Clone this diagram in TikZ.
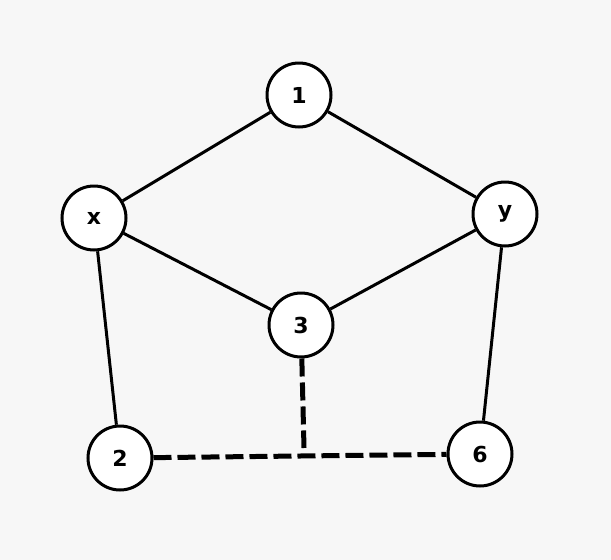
\documentclass[tikz,border=0pt]{standalone}
\usepackage{fontspec}
\setmainfont{DejaVu Sans}
\definecolor{bg}{HTML}{F7F7F7}
\begin{document}
\begin{tikzpicture}[x=1pt,y=-1pt,
  vert/.style={circle,draw=black,line width=3pt,fill=white,minimum size=64pt,inner sep=0pt,font=\fontsize{22}{22}\selectfont\bfseries},
  edge/.style={line width=3pt},
  dedge/.style={line width=5pt,dash pattern=on 18pt off 6pt}]
\fill[bg] (0,0) rectangle (611,560);
\useasboundingbox (0,0) rectangle (611,560);
\node[vert] (n1) at (299,95) {1};
\node[vert] (nx) at (94,218) {x};
\node[vert] (ny) at (505,214) {y};
\node[vert] (n3) at (301,325) {3};
\node[vert] (n2) at (120,458) {2};
\node[vert] (n6) at (480,454) {6};
\coordinate (j) at (304,448);
\draw[edge] (n1) -- (nx);
\draw[edge] (n1) -- (ny);
\draw[edge] (nx) -- (n3);
\draw[edge] (ny) -- (n3);
\draw[edge] (nx) -- (n2);
\draw[edge] (ny) -- (n6);
\draw[dedge] (n2) -- (n6);
\draw[dedge] (n3) -- (j);
\end{tikzpicture}
\end{document}
